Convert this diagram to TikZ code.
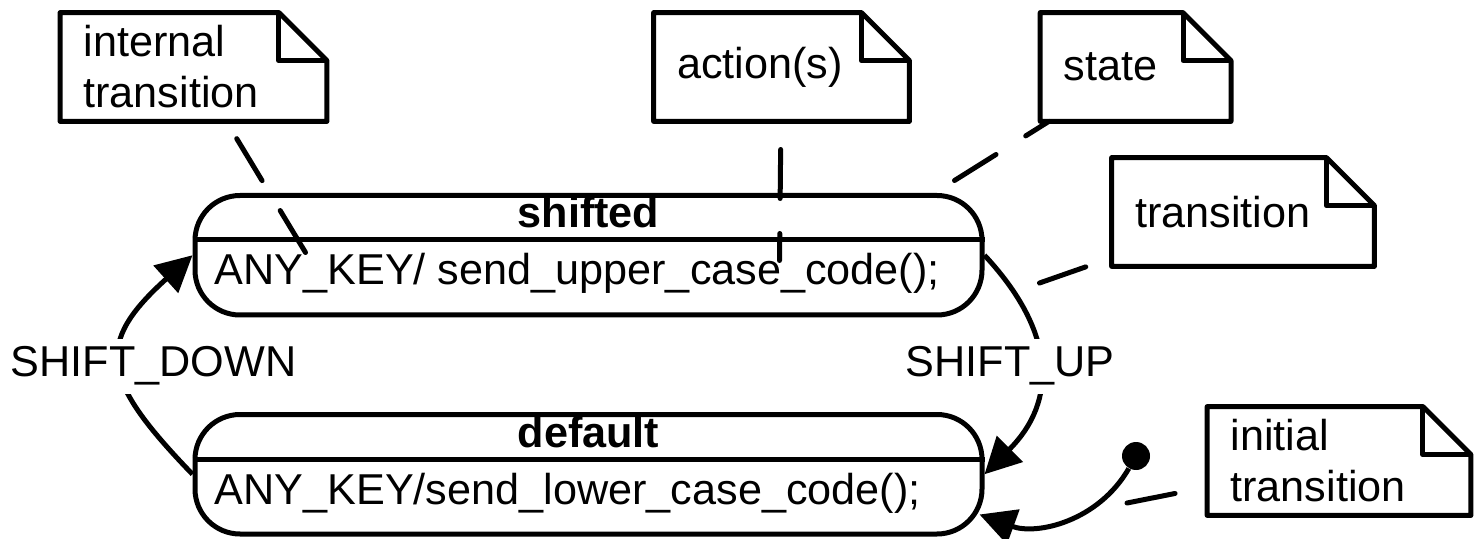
\documentclass[tikz,border=0pt]{standalone}
\usepackage{fontspec}
\setmainfont{Liberation Sans}
\usetikzlibrary{arrows.meta}
\tikzstyle{state} = [draw, line width=2.5pt, rounded corners=22.5pt, minimum width=393.5pt, minimum height=59.75pt, inner sep=0pt]
\tikzstyle{note} = [inner xsep=11.5pt, inner ysep=0pt, minimum height=54pt, align=left]
\tikzstyle{notepen} = [line width=2.5pt, line join=round]
\tikzstyle{link} = [line width=2.5pt, line cap=round, dash pattern=on 24.5pt off 17.5pt]
\tikzstyle{trans} = [line width=2.5pt, -{Triangle[length=18pt,width=18pt]}]
\tikzstyle{trlabel} = [anchor=base, fill=white, inner sep=4pt]
\newcommand{\umlnote}[4]{
 \node[note, text width=#3] (#1) at (#2) {#4};
 \draw[notepen] (#1.north west) -- ([xshift=-24pt]#1.north east) -- ([yshift=-24pt]#1.north east) -- (#1.south east) -- (#1.south west) -- cycle;
 \draw[notepen] ([xshift=-24pt]#1.north east) |- ([yshift=-24pt]#1.north east);
}
\begin{document}
\begin{tikzpicture}[x=0.5pt, y=-0.5pt, font=\fontsize{21.6pt}{25.5pt}\selectfont]
    \useasboundingbox (0,0) rectangle (1482,539);

    \node[state] (shifted) at (588.5,255.25) {};
    \node[state] (default) at (588.5,474.25) {};
    \draw[line width=2.5pt] ([yshift=-23.5pt]shifted.north west) -- ([yshift=-23.5pt]shifted.north east);
    \draw[line width=2.5pt] ([yshift=-23.5pt]default.north west) -- ([yshift=-23.5pt]default.north east);
    \node[anchor=base] (shifted-name) at ([shift={(0,35)}]shifted.north) {\textbf{shifted}};
    \node[anchor=base west, inner sep=0pt] (shifted-act) at ([shift={(21.7,92)}]shifted.north west) {ANY\_KEY/ send\_upper\_case\_code();};
    \node[anchor=base] (default-name) at ([shift={(0,35)}]default.north) {\textbf{default}};
    \node[anchor=base west, inner sep=0pt] (default-act) at ([shift={(21.7,92)}]default.north west) {ANY\_KEY/send\_lower\_case\_code();};

    \umlnote{int-note}{193.5,67}{110pt}{internal\\transition}
    \umlnote{act-note}{781.5,67}{104.5pt}{action(s)}
    \umlnote{state-note}{1135.6,67}{72pt}{state}
    \umlnote{tr-note}{1243,212}{108pt}{transition}
    \umlnote{init-note}{1339,461}{108.5pt}{initial\\transition}

    % transitions
    \node[circle, fill, inner sep=0pt, minimum size=14pt] (init) at (1136,456) {};
    \coordinate (init-end) at ([shift={(-5,-22)}]default.south east);
    \draw[trans] (default.west) to[out=134, in=222, looseness=1.55] (shifted.west);
    \draw[trans] (shifted.east) to[out=-47, in=45, looseness=1.22] (default.east);
    \draw[trans] (init) to[out=-120, in=-20] (init-end);
    \node[trlabel] (down) at (153.5,377) {SHIFT\_DOWN};
    \node[trlabel] (up) at (1010,377) {SHIFT\_UP};

    % note anchors
    \coordinate (int-pt) at ([shift={(113,59.5)}]shifted.north west);
    \coordinate (act-pt) at ([shift={(587,67.5)}]shifted.north west);
    \coordinate (state-pt) at ([shift={(-30,-12.5)}]shifted.north east);
    \coordinate (tr-pt) at ([shift={(55,27.75)}]shifted.east);
    \coordinate (init-pt) at ([shift={(-9,47)}]init.center);
    \draw[link] (int-pt) -- (int-note);
    \draw[link, dash phase=11pt] (act-pt) -- (act-note);
    \draw[link] (state-pt) -- (state-note);
    \draw[link] (tr-pt) -- (tr-note);
    \draw[link] (init-pt) -- (init-note);
\end{tikzpicture}
\end{document}
